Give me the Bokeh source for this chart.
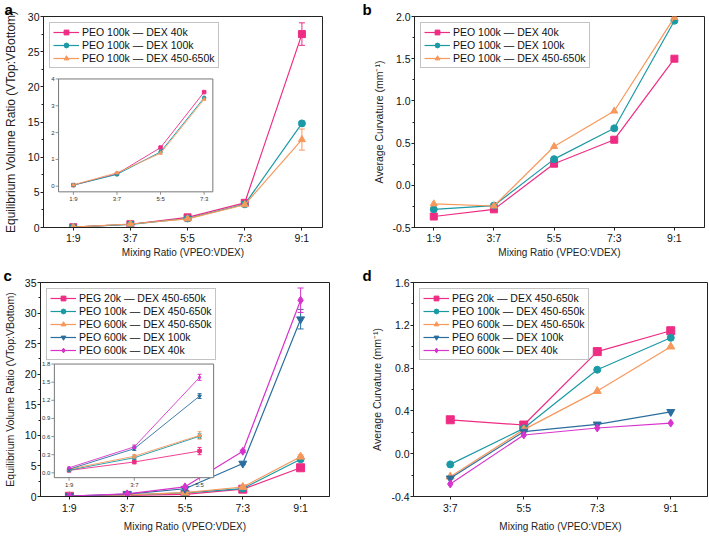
import numpy as np
from bokeh.plotting import figure
from bokeh.layouts import column, row
from bokeh.models import (Range1d, FixedTicker, SingleIntervalTicker, NumeralTickFormatter)
from bokeh.core.properties import value
from bokeh.embed import file_html
from bokeh.resources import INLINE

FONT = "Liberation Sans"

# ---------------- data ----------------
ratios5 = ["1:9", "3:7", "5:5", "7:3", "9:1"]
ratios4 = ["3:7", "5:5", "7:3", "9:1"]

# panel a : equilibrium volume ratio, PEO 100k with three DEX
a_labels = ["PEO 100k — DEX 40k", "PEO 100k — DEX 100k", "PEO 100k — DEX 450-650k"]
a_dex40 = [0.04, 0.46, 1.44, 3.51, 27.5]
a_dex100 = [0.04, 0.44, 1.28, 3.30, 14.8]
a_dex450 = [0.05, 0.50, 1.23, 3.24, 12.5]
a_err40 = [0.0, 0.0, 0.0, 0.0, 1.6]
a_err100 = [0.0, 0.0, 0.0, 0.0, 0.3]
a_err450 = [0.0, 0.0, 0.0, 0.0, 1.5]

# panel b : average curvature
b_dex40 = [-0.37, -0.285, 0.256, 0.54, 1.50]
b_dex100 = [-0.285, -0.24, 0.31, 0.675, 1.95]
b_dex450 = [-0.22, -0.245, 0.46, 0.88, 1.99]

# panel c : equilibrium volume ratio, five systems
c_labels = ["PEG 20k — DEX 450-650k", "PEO 100k — DEX 450-650k",
            "PEO 600k — DEX 450-650k", "PEO 600k — DEX 100k", "PEO 600k — DEX 40k"]
c_peg20 = [0.04, 0.18, 0.36, 1.2, 4.7]
c_peo100 = [0.045, 0.25, 0.605, 1.3, 6.1]
c_peo600_450 = [0.06, 0.275, 0.62, 1.55, 6.5]
c_peo600_100 = [0.06, 0.40, 1.27, 5.4, 29.0]
c_peo600_40 = [0.083, 0.43, 1.58, 7.4, 32.1]
c_err_peg20 = [0.01, 0.03, 0.06, 0.1, 0.2]
c_err_peo100 = [0.01, 0.03, 0.04, 0.1, 0.3]
c_err_peo600_450 = [0.01, 0.03, 0.06, 0.1, 0.3]
c_err_peo600_100 = [0.01, 0.03, 0.04, 0.2, 1.6]
c_err_peo600_40 = [0.01, 0.03, 0.05, 0.2, 2.0]

# panel d : average curvature, five systems
d_peg20 = [0.317, 0.268, 0.954, 1.149]
d_peo100 = [-0.10, 0.237, 0.785, 1.083]
d_peo600_450 = [-0.215, 0.225, 0.585, 1.0]
d_peo600_100 = [-0.23, 0.206, 0.274, 0.391]
d_peo600_40 = [-0.283, 0.175, 0.24, 0.286]

PINK = "#ee2c84"
TEAL = "#1b9aa6"
ORANGE = "#f7985c"
DBLUE = "#2b6e9e"
MAGENTA = "#d833cc"

X_LABEL = "Mixing Ratio (VPEO:VDEX)"
VR_LABEL = "Equilibrium Volume Ratio (VTop:VBottom)"
CU_LABEL = "Average Curvature (mm⁻¹)"


def make_fig(w, h, bl, br, bt, bb, xr, yr, cats, yint, yfmt, letter, letter_off,
             ylabel, ylabel_size, y_standoff, x_standoff, xtick_standoff):
    p = figure(width=w, height=h, x_range=Range1d(*xr), y_range=Range1d(*yr),
               output_backend="svg", toolbar_location=None,
               min_border_left=bl, min_border_right=br,
               min_border_top=bt, min_border_bottom=bb)
    p.xgrid.visible = False
    p.ygrid.visible = False
    p.outline_line_color = "#222222"
    p.outline_line_width = 1
    p.title.text = letter
    p.title.align = "left"
    p.title.offset = letter_off
    p.title.standoff = -3
    p.title.text_font = FONT
    p.title.text_font_size = "15px"
    p.title.text_font_style = "bold"
    p.title.text_color = "black"
    p.xaxis.ticker = FixedTicker(ticks=list(range(len(cats))), minor_ticks=[])
    p.xaxis.major_label_overrides = {i: c for i, c in enumerate(cats)}
    p.yaxis.ticker = SingleIntervalTicker(interval=yint, num_minor_ticks=2)
    if yfmt:
        p.yaxis.formatter = NumeralTickFormatter(format=yfmt)
    for ax in p.axis:
        ax.axis_line_color = "#222222"
        ax.major_tick_line_color = "#222222"
        ax.minor_tick_line_color = "#222222"
        ax.major_tick_in = 0
        ax.major_tick_out = 3
        ax.minor_tick_in = 0
        ax.minor_tick_out = 2
        ax.major_label_text_font = FONT
        ax.major_label_text_font_size = "10.5px"
        ax.major_label_text_color = "#111111"
        ax.major_label_standoff = 1
        ax.axis_label_text_font = FONT
        ax.axis_label_text_font_style = "normal"
        ax.axis_label_text_color = "#222222"
    p.xaxis.major_label_standoff = xtick_standoff
    p.xaxis.axis_label = X_LABEL
    p.xaxis.axis_label_text_font_size = "10px"
    p.xaxis.axis_label_standoff = x_standoff
    p.yaxis.axis_label = ylabel
    p.yaxis.axis_label_text_font_size = ylabel_size
    p.yaxis.axis_label_standoff = y_standoff
    return p


def series(p, x, y, color, marker, label, size=7, err=None, lw=1.2):
    p.line(x, y, line_color=color, line_width=lw, legend_label=label)
    p.scatter(x, y, marker=marker, size=size, fill_color=color, line_color=color,
              legend_label=label)
    if err is not None:
        errbars(p, x, y, err, color, 6)


def errbars(g, x, y, err, color, cap):
    xs = [xi for xi, e in zip(x, err) if e > 0]
    lo = [yi - e for yi, e in zip(y, err) if e > 0]
    hi = [yi + e for yi, e in zip(y, err) if e > 0]
    if not xs:
        return
    g.segment(x0=xs, y0=lo, x1=xs, y1=hi, line_color=color, line_width=1)
    g.scatter(xs + xs, lo + hi, marker="dash", size=cap, line_color=color, line_width=1)


def style_legend(p):
    lg = p.legend[0]
    lg.location = "top_left"
    lg.margin = 6
    lg.border_line_color = "#888888"
    lg.border_line_width = 1
    lg.label_text_font = FONT
    lg.label_text_font_size = "10.5px"
    lg.label_text_color = "#111111"
    lg.glyph_width = 26
    lg.glyph_height = 12
    lg.label_height = 12
    lg.spacing = 1
    lg.padding = 3
    lg.label_standoff = 3


def inset(p, fx, fy, xsrc, ysrc, cats, yticks, yfmt, w_px, h_px):
    xr, yr = p.x_range, p.y_range
    tx = Range1d(xr.start + fx[0] * (xr.end - xr.start), xr.start + fx[1] * (xr.end - xr.start))
    ty = Range1d(yr.start + fy[0] * (yr.end - yr.start), yr.start + fy[1] * (yr.end - yr.start))
    sub = p.subplot(x_source=Range1d(*xsrc), y_source=Range1d(*ysrc), x_target=tx, y_target=ty)
    sub.quad(left=[xsrc[0]], right=[xsrc[1]], bottom=[ysrc[0]], top=[ysrc[1]],
             fill_color="white", line_color="#777777", line_width=1)
    dy = 3.0 * (ysrc[1] - ysrc[0]) / h_px
    dx = 3.0 * (xsrc[1] - xsrc[0]) / w_px
    xt = list(range(len(cats)))
    sub.segment(x0=xt, y0=[ysrc[0]] * len(xt), x1=xt, y1=[ysrc[0] - dy] * len(xt),
                line_color="#777777", line_width=0.8)
    sub.segment(x0=[xsrc[0]] * len(yticks), y0=yticks, x1=[xsrc[0] - dx] * len(yticks), y1=yticks,
                line_color="#777777", line_width=0.8)
    sub.text(x=xt, y=[ysrc[0]] * len(xt), text=cats, text_font=value(FONT),
             text_font_size="6px", text_align="center", text_baseline="top",
             y_offset=4, text_color="#333333")
    sub.text(x=[xsrc[0]] * len(yticks), y=yticks, text=[yfmt.format(t) for t in yticks],
             text_font=value(FONT), text_font_size="6px", text_align="right",
             text_baseline="middle", x_offset=-4, text_color="#333333")
    return sub


# ---------------- panel a ----------------
xa = list(range(5))
pa = make_fig(355, 260, 42, 33, 16, 31, (-0.52, 4.36), (0, 30), ratios5, 5, None,
              "a", -39, VR_LABEL, "12px", 7, 0, 1)
series(pa, xa, a_dex40, PINK, "square", a_labels[0], err=a_err40)
series(pa, xa, a_dex100, TEAL, "circle", a_labels[1], err=a_err100)
series(pa, xa, a_dex450, ORANGE, "triangle", a_labels[2], err=a_err450)
style_legend(pa)
suba = inset(pa, (0.054, 0.607), (0.169, 0.704), (-0.34, 3.2), (-0.21, 4.0),
             ratios5[:4], [0, 1, 2, 3, 4], "{:g}", 155, 114)
for yv, col, mk in [(a_dex40, PINK, "square"), (a_dex100, TEAL, "circle"), (a_dex450, ORANGE, "triangle")]:
    suba.line(xa[:4], yv[:4], line_color=col, line_width=0.9)
    suba.scatter(xa[:4], yv[:4], marker=mk, size=3.5, fill_color=col, line_color=col)

# ---------------- panel b ----------------
pb = make_fig(354, 260, 59, 5, 15, 32, (-0.32, 4.5), (-0.5, 2.0), ratios5, 0.5, "0.0",
              "b", -52, CU_LABEL, "10.5px", 4, 0, 1)
series(pb, xa, b_dex40, PINK, "square", a_labels[0])
series(pb, xa, b_dex100, TEAL, "circle", a_labels[1])
series(pb, xa, b_dex450, ORANGE, "triangle", a_labels[2])
style_legend(pb)

# ---------------- panel c ----------------
pc = make_fig(355, 276, 40, 26, 21, 40, (-0.5, 4.5), (0, 35), ratios5, 5, None,
              "c", -37, VR_LABEL, "10.5px", 6, 4, 2)
c_sets = [(c_peg20, c_err_peg20, PINK, "square"),
          (c_peo100, c_err_peo100, TEAL, "circle"),
          (c_peo600_450, c_err_peo600_450, ORANGE, "triangle"),
          (c_peo600_100, c_err_peo600_100, DBLUE, "inverted_triangle"),
          (c_peo600_40, c_err_peo600_40, MAGENTA, "diamond")]
for (yv, ev, col, mk), lab in zip(c_sets, c_labels):
    series(pc, xa, yv, col, mk, lab, size=8 if mk != "circle" else 7, err=ev)
style_legend(pc)
subc = inset(pc, (0.048, 0.599), (0.088, 0.619), (-0.225, 2.215), (-0.08, 1.8),
             ratios5[:3], [0.0, 0.3, 0.6, 0.9, 1.2, 1.5, 1.8], "{:.1f}", 159, 114)
for yv, ev, col, mk in c_sets:
    subc.line(xa[:3], yv[:3], line_color=col, line_width=0.9)
    subc.scatter(xa[:3], yv[:3], marker=mk, size=3.5, fill_color=col, line_color=col)
    errbars(subc, xa[:3], yv[:3], ev[:3], col, 4)

# ---------------- panel d ----------------
xd = list(range(4))
pd_ = make_fig(354, 276, 58, 2, 22, 38, (-0.5, 3.5), (-0.4, 1.6), ratios4, 0.4, "0.0",
               "d", -51, CU_LABEL, "10.5px", 5, 4, 2)
d_sets = [(d_peg20, PINK, "square"), (d_peo100, TEAL, "circle"),
          (d_peo600_450, ORANGE, "triangle"), (d_peo600_100, DBLUE, "inverted_triangle"),
          (d_peo600_40, MAGENTA, "diamond")]
for (yv, col, mk), lab in zip(d_sets, c_labels):
    series(pd_, xd, yv, col, mk, lab, size=8 if mk != "circle" else 7)
style_legend(pd_)

layout = column(row(pa, pb), row(pc, pd_))
open("out.html", "w").write(file_html(layout, INLINE))
